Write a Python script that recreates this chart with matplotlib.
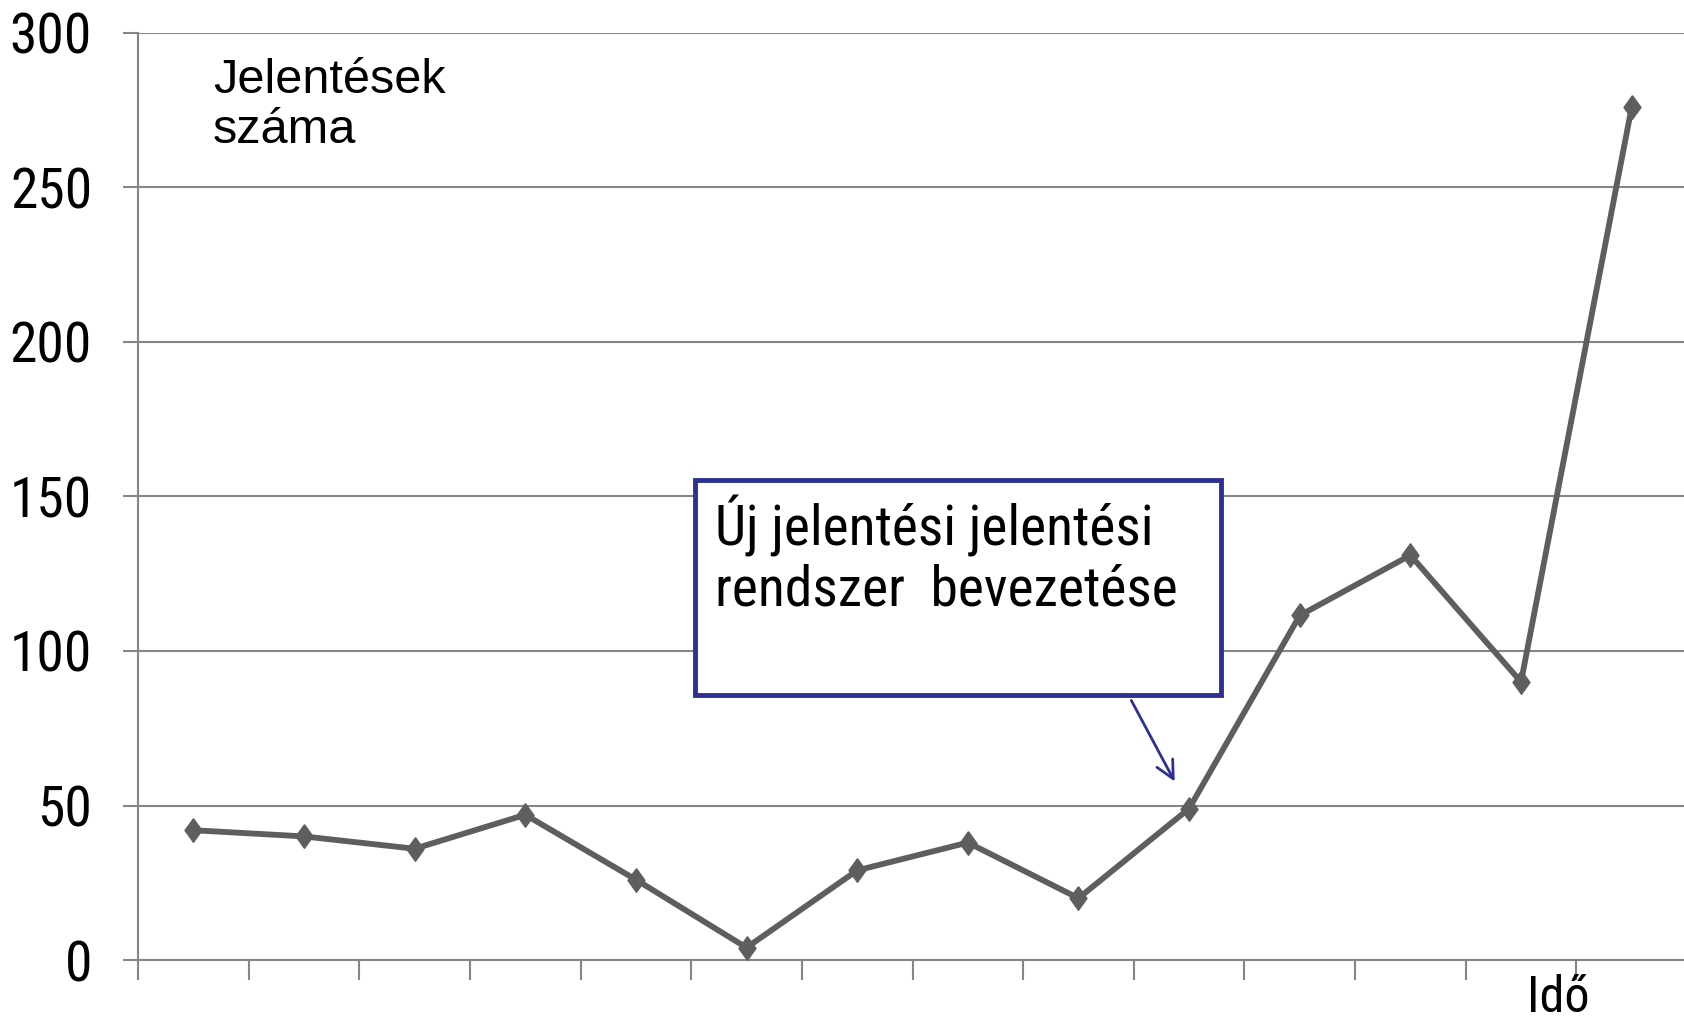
import matplotlib
matplotlib.use("Agg")
import matplotlib.pyplot as plt
from matplotlib.patches import Rectangle, FancyArrowPatch
import numpy as np

# ---- data ----
periods = [1, 2, 3, 4, 5, 6, 7, 8, 9, 10, 11, 12, 13, 14]
reports = [42, 40, 36, 47, 26, 4, 29, 38, 20, 49, 111.5, 131, 90, 276]
y_ticks = [0, 50, 100, 150, 200, 250, 300]
y_label = "Jelentések\nszáma"
x_label = "Idő"
note_text = "Új jelentési jelentési\nrendszer  bevezetése"

W, H = 1684, 1025
NARROW = ['Roboto Condensed', 'Archivo Narrow', 'Liberation Sans', 'DejaVu Sans']
NORMAL = ['Liberation Sans', 'DejaVu Sans']

fig = plt.figure(figsize=(W / 100, H / 100), dpi=100)
fig.patch.set_facecolor('white')

ax_left, ax_right, ax_top, ax_bottom = 138, 1687, 33, 960
ax = fig.add_axes([ax_left / W, (H - ax_bottom) / H,
                   (ax_right - ax_left) / W, (ax_bottom - ax_top) / H])

grey = '#868686'
xpos = np.arange(len(periods))
ax.set_xlim(-0.5, len(periods) - 0.5)
ax.set_ylim(0, 300)

for v in y_ticks:
    ax.axhline(v, color=grey, lw=1.5, zorder=1)

line_col = '#5e5e5e'
diamond = [(0, 1), (0.72, 0), (0, -1), (-0.72, 0), (0, 1)]
ax.plot(xpos, reports, color=line_col, lw=4.2, marker=diamond,
        markersize=17, markerfacecolor=line_col, markeredgecolor=line_col,
        zorder=3, clip_on=False)

for s in ['top', 'right']:
    ax.spines[s].set_visible(False)
ax.spines['left'].set_color(grey)
ax.spines['left'].set_linewidth(1.5)
ax.spines['bottom'].set_color(grey)
ax.spines['bottom'].set_linewidth(1.5)

ax.set_yticks(y_ticks)
ax.set_yticklabels([str(v) for v in y_ticks])
ax.tick_params(axis='y', length=11, width=1.5, color=grey, pad=22,
               labelsize=40)
for lab in ax.get_yticklabels():
    lab.set_family(NARROW)

ax.set_xticks(np.arange(len(periods) + 1) - 0.5)
ax.set_xticklabels([])
ax.tick_params(axis='x', length=14.5, width=1.5, color=grey)

# axis titles
fig.text(213 / W, 1 - 58 / H, y_label, ha='left', va='top',
         fontsize=35, family=NORMAL, linespacing=1.15)
fig.text(1527 / W, 1 - 1012 / H, x_label, ha='left', va='baseline',
         fontsize=36, family=NARROW)

# annotation box
navy = '#2e3192'
bl, bt, br, bb = 695, 480, 1221, 695
rect = Rectangle((bl / W, 1 - bb / H), (br - bl) / W, (bb - bt) / H,
                 transform=fig.transFigure, facecolor='white',
                 edgecolor=navy, lw=3.5, zorder=5)
fig.add_artist(rect)
fig.text(715 / W, 1 - 495 / H, note_text, ha='left', va='top',
         fontsize=40, family=NARROW, linespacing=1.15, zorder=6)

arrow = FancyArrowPatch((1130 / W, 1 - 698 / H), (1176 / W, 1 - 784 / H),
                        transform=fig.transFigure, arrowstyle='->',
                        mutation_scale=32, color=navy, lw=2.0, zorder=6)
fig.add_artist(arrow)

fig.savefig('out.png', dpi=100, facecolor='white')
